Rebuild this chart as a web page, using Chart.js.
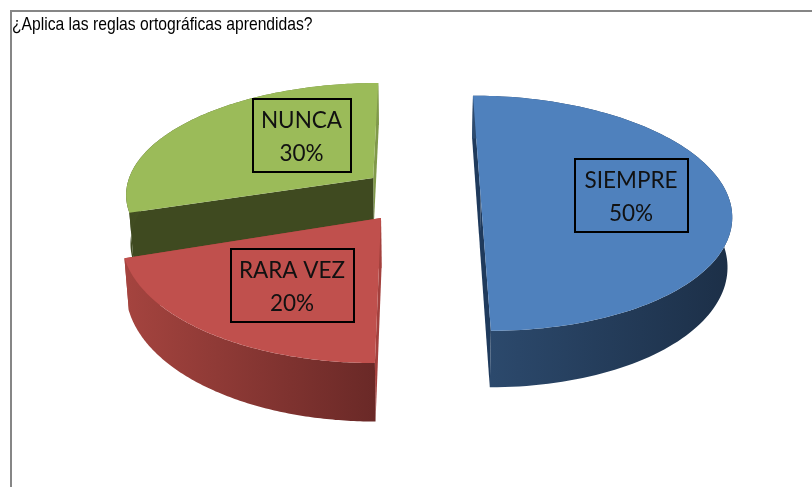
<!DOCTYPE html>
<html>
<head>
<meta charset="utf-8">
<style>html,body{margin:0;padding:0;background:#fff}canvas{display:block}</style>
<script src="https://cdn.jsdelivr.net/npm/chart.js@4"></script>
</head>
<body>
<canvas id="c" width="812" height="487"></canvas>
<script>
const titleText = '¿Aplica las reglas ortográficas aprendidas?';
const categories = ['SIEMPRE', 'RARA VEZ', 'NUNCA'];
const values = [50, 20, 30];
const percentLabels = ['50%', '20%', '30%'];
const topColors = ['#4F81BD', '#C0504D', '#9BBB59'];

// appearance of the 3-D projection
const wallLeftColors = ['#2D4B6F', '#A5443F', '#3F4A20'];
const wallRightColors = ['#1C2F47', '#6A2927', '#80994A'];
const startWallColors = ['#1F3A5C', '#A3403D', '#3F4A20'];
const endWallColors = ['#1F3A5C', '#A3403D', '#80994A'];
const sliceX = [65.3, -36, -46];
const sliceZ = [-45, 0, -87.6];
const radiusX = [254, 256, 256];
const radiusZ = [253, 259, 247];
const paintOrder = [2, 1, 0];
const boxes = [
  {x: 575, y: 159, w: 113, h: 73},
  {x: 231, y: 249, w: 123, h: 73},
  {x: 253, y: 99, w: 98, h: 73}
];
const cam = {vx: 417, vy: -639, h: 857, d: 1789, depth: 50, shrink: 0.985};
const titleSqueeze = 0.825;

function project(X, Z, low) {
  const s = 1 / (1 - Z / cam.d);
  return {
    x: cam.vx + X * s * (low ? cam.shrink : 1),
    y: cam.vy + (cam.h + (low ? cam.depth : 0)) * s
  };
}

function poly(ctx, pts, fill) {
  ctx.beginPath();
  pts.forEach((p, i) => i ? ctx.lineTo(p.x, p.y) : ctx.moveTo(p.x, p.y));
  ctx.closePath();
  ctx.fillStyle = fill;
  ctx.fill();
}

const pie3d = {
  id: 'pie3d',
  // the title box is drawn between these two hooks: it is condensed horizontally
  beforeDraw(chart) {
    chart.ctx.save();
    chart.ctx.scale(titleSqueeze, 1);
  },
  beforeDatasetsDraw(chart) {
    chart.ctx.restore();
  },
  beforeDatasetDraw(chart, args) {
    const ctx = chart.ctx;
    const arcs = chart.getDatasetMeta(args.index).data;
    ctx.save();
    paintOrder.forEach(i => {
      const el = arcs[i];
      const a0 = el.startAngle, a1 = el.endAngle;
      const X0 = sliceX[i], Z0 = sliceZ[i], RX = radiusX[i], RZ = radiusZ[i];
      const top = [], low = [];
      const n = 120;
      for (let k = 0; k <= n; k++) {
        const a = a0 + (a1 - a0) * k / n;
        const X = X0 + RX * Math.cos(a), Z = Z0 + RZ * Math.sin(a);
        top.push(project(X, Z, false));
        low.push(project(X, Z, true));
      }
      const ct = project(X0, Z0, false), cl = project(X0, Z0, true);
      poly(ctx, [ct, top[n], low[n], cl], endWallColors[i]);
      poly(ctx, [ct, top[0], low[0], cl], startWallColors[i]);
      const xs = top.map(p => p.x);
      const g = ctx.createLinearGradient(Math.min(...xs), 0, Math.max(...xs), 0);
      g.addColorStop(0, wallLeftColors[i]);
      g.addColorStop(1, wallRightColors[i]);
      poly(ctx, top.concat(low.slice().reverse()), g);
      poly(ctx, [ct].concat(top), el.options.backgroundColor);
    });
    ctx.restore();
    return false;
  },
  afterDraw(chart) {
    const ctx = chart.ctx;
    ctx.save();
    // frame
    ctx.fillStyle = '#868686';
    ctx.fillRect(10, 10, 802, 2);
    ctx.fillRect(10, 10, 2, 477);
    // labels
    ctx.strokeStyle = '#000';
    ctx.lineWidth = 2;
    ctx.fillStyle = '#111';
    ctx.font = '22.5px Lato';
    ctx.textAlign = 'center';
    ctx.textBaseline = 'middle';
    boxes.forEach((b, i) => {
      ctx.strokeRect(b.x, b.y, b.w, b.h);
      ctx.fillText(categories[i], b.x + b.w / 2 - 0.5, b.y + 22);
      ctx.fillText(percentLabels[i], b.x + b.w / 2 - 0.5, b.y + 55);
    });
    ctx.restore();
  }
};

new Chart(document.getElementById('c'), {
  type: 'pie',
  data: {
    labels: categories,
    datasets: [{data: values, backgroundColor: topColors, borderWidth: 0}]
  },
  options: {
    responsive: false,
    animation: false,
    layout: {padding: {left: 14.5, top: 13}},
    plugins: {
      legend: {display: false},
      tooltip: {enabled: false},
      title: {
        display: true,
        text: titleText,
        align: 'start',
        color: '#000',
        padding: 0,
        font: {family: '"Liberation Sans"', size: 19, weight: 'normal'}
      }
    }
  },
  plugins: [pie3d]
});
</script>
</body>
</html>
